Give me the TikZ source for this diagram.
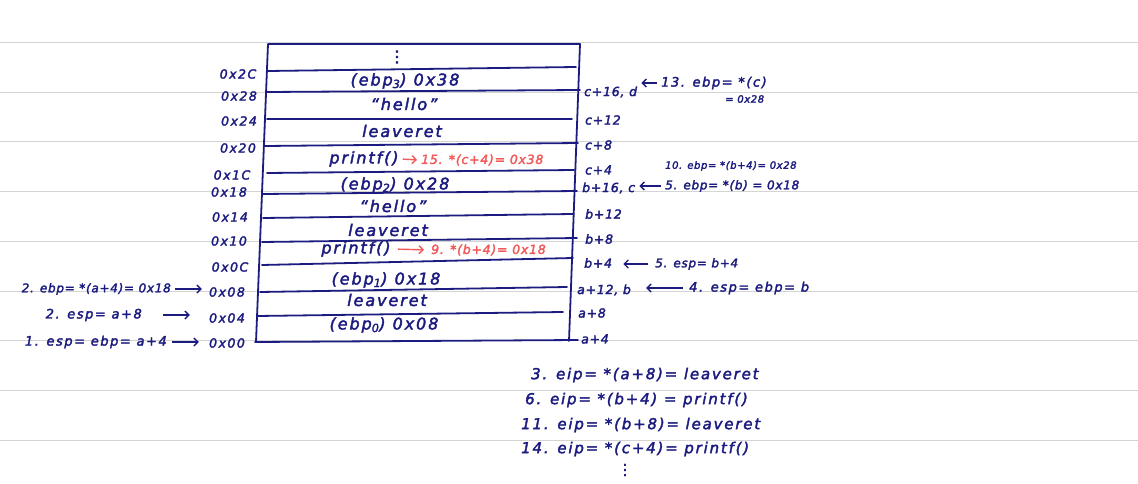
\documentclass[tikz,border=0pt]{standalone}
\usepackage{fontspec}
\setmainfont{DejaVu Sans}
\newfontfamily\hand[LetterSpace=12, FakeBold=2.4]{DejaVu Sans}
\newfontfamily\handtight[LetterSpace=6, FakeBold=2.4]{DejaVu Sans}
\usetikzlibrary{arrows.meta}
\definecolor{ink}{HTML}{1C1C80}
\definecolor{redink}{HTML}{F25A5A}
\definecolor{rule}{HTML}{D4D4D4}
\tikzset{
  rowtxt/.style={font=\hand\itshape\fontsize{16}{16}\selectfont, text=ink, inner sep=1pt},
  addr/.style={font=\hand\itshape\fontsize{12.5}{13}\selectfont, text=ink, inner sep=1pt},
  raddr/.style={font=\handtight\itshape\fontsize{12.5}{13}\selectfont, text=ink, inner sep=1pt},
  note/.style={font=\hand\itshape\fontsize{13}{13}\selectfont, text=ink, inner sep=1pt},
  notesm/.style={font=\handtight\itshape\fontsize{12}{12}\selectfont, text=ink, inner sep=1pt},
  small/.style={font=\handtight\itshape\fontsize{10}{10}\selectfont, text=ink, inner sep=1pt},
  rednote/.style={font=\handtight\itshape\fontsize{12.5}{13}\selectfont, text=redink, inner sep=1pt},
  bottom/.style={font=\hand\itshape\fontsize{15}{15}\selectfont, text=ink, inner sep=1pt},
  pen/.style={draw=ink, line width=1.8pt, line cap=round, line join=round},
  arr/.style={draw=ink, line width=1.4pt, -{Straight Barb[length=4pt,width=8pt]}},
  redarr/.style={draw=redink, line width=1.4pt, -{Straight Barb[length=4pt,width=8pt]}},
  ruled/.style={draw=rule, line width=1pt}
}
\begin{document}
\begin{tikzpicture}[x=1pt,y=-1pt]
\useasboundingbox (0,0) rectangle (1138,484);
\fill[white] (0,0) rectangle (1138,484);
% notebook rules
\foreach \k in {0,...,8} {
  \draw[ruled] (0,{42.5+49.7*\k}) -- (1138,{42.5+49.7*\k});
}
% box outline
\coordinate (tl) at (268,44);
\coordinate (tr) at (580,44);
\coordinate (br) at (569,341);
\coordinate (bl) at (256,342);
\draw[pen] (bl) -- (tl) -- (tr) -- (br);
% row lines
\draw[pen] (268,71) -- (576,67);
\draw[pen] (267,92) -- (580,90);
\draw[pen] (267,119) -- (572,119);
\draw[pen] (265,146) -- (578,143);
\draw[pen] (267,173) -- (574,170);
\draw[pen] (263,194) -- (577,191);
\draw[pen] (263,218) -- (573,214);
\draw[pen] (262,242) -- (577,238);
\draw[pen] (262,265) -- (573,258);
\draw[pen] (260,292) -- (567,287);
\draw[pen] (257,316) -- (563,312);
\draw[pen] (255,342) -- (578,340);

% row contents
\node[rowtxt] (dots) at (397,57) {⋮};
\node[rowtxt] (ebp3) at (405,81) {(ebp\textsubscript{3}) 0x38};
\node[rowtxt] (hello1) at (404,104) {“hello”};
\node[rowtxt] (leave1) at (402,131) {leaveret};
\node[rowtxt] (printf1) at (364,159) {printf()};
\node[rednote, anchor=west] (red1) at (420,160) {15. *(c+4)= 0x38};
\draw[redarr, shorten <=3pt, shorten >=3pt] (printf1.east) -- (red1.west);
\node[rowtxt] (ebp2) at (395,185) {(ebp\textsubscript{2}) 0x28};
\node[rowtxt] (hello2) at (393,206) {“hello”};
\node[rowtxt] (leave2) at (388,230) {leaveret};
\node[rowtxt] (printf2) at (356,249) {printf()};
\node[rednote, anchor=west] (red2) at (430,250) {9. *(b+4)= 0x18};
\draw[redarr, shorten <=6pt, shorten >=6pt] (printf2.east) -- (red2.west);
\node[rowtxt] (ebp1) at (386,280) {(ebp\textsubscript{1}) 0x18};
\node[rowtxt] (leave3) at (387,300) {leaveret};
\node[rowtxt] (ebp0) at (384,325) {(ebp\textsubscript{0}) 0x08};

% left addresses
\node[addr] (a2C) at (238,74) {0x2C};
\node[addr] (a28) at (239,96) {0x28};
\node[addr] (a24) at (239,121) {0x24};
\node[addr] (a20) at (238,148) {0x20};
\node[addr] (a1C) at (232,175) {0x1C};
\node[addr] (a18) at (229,192) {0x18};
\node[addr] (a14) at (230,217) {0x14};
\node[addr] (a10) at (229,241) {0x10};
\node[addr] (a0C) at (230,267) {0x0C};
\node[addr] (a08) at (227,292) {0x08};
\node[addr] (a04) at (227,318) {0x04};
\node[addr] (a00) at (227,343) {0x00};

% right offsets
\node[raddr, anchor=west] (rd) at (583,92) {c+16, d};
\node[raddr, anchor=west] (rc12) at (584,120) {c+12};
\node[raddr, anchor=west] (rc8) at (584,145) {c+8};
\node[raddr, anchor=west] (rc4) at (584,170) {c+4};
\node[raddr, anchor=west] (rc) at (581,188) {b+16, c};
\node[raddr, anchor=west] (rb12) at (584,214) {b+12};
\node[raddr, anchor=west] (rb8) at (584,239) {b+8};
\node[raddr, anchor=west] (rb4) at (583,263) {b+4};
\node[raddr, anchor=west] (rb) at (576,290) {a+12, b};
\node[raddr, anchor=west] (ra8) at (577,313) {a+8};
\node[raddr, anchor=west] (ra4) at (580,339) {a+4};

% right annotations
\node[note, anchor=west] (n13) at (660,83) {13. ebp= *(c)};
\node[small, anchor=west] (n13b) at (724,99) {= 0x28};
\draw[arr, shorten <=3pt, shorten >=3pt] (n13.west) -- (rd.east |- n13.west);
\node[small, anchor=west] (n10) at (664,166) {10. ebp= *(b+4)= 0x28};
\node[notesm, anchor=west] (n5a) at (664,186) {5. ebp= *(b) = 0x18};
\draw[arr, shorten <=3pt, shorten >=3pt] (n5a.west) -- (rc.east |- n5a.west);
\node[notesm, anchor=west] (n5b) at (654,264) {5. esp= b+4};
\draw[arr, shorten <=6pt, shorten >=10pt] (n5b.west) -- (rb4.east |- n5b.west);
\node[note, anchor=west] (n4) at (688,288) {4. esp= ebp= b};
\draw[arr, shorten <=5pt, shorten >=14pt] (n4.west) -- (rb.east |- n4.west);

% left annotations
\node[notesm, anchor=east] (l2a) at (172,289) {2. ebp= *(a+4)= 0x18};
\draw[arr, shorten <=3pt, shorten >=6pt] (l2a.east) -- (a08.west |- l2a.east);
\node[note, anchor=east] (l2b) at (143,315) {2. esp= a+8};
\draw[arr, shorten <=20pt, shorten >=18pt] (l2b.east) -- (a04.west |- l2b.east);
\node[note, anchor=east] (l1) at (168,342) {1. esp= ebp= a+4};
\draw[arr, shorten <=4pt, shorten >=9pt] (l1.east) -- (a00.west |- l1.east);

% bottom notes
\node[bottom, anchor=west] (e3) at (530,375) {3. eip= *(a+8)= leaveret};
\node[bottom, anchor=west] (e6) at (524,400) {6. eip= *(b+4) = printf()};
\node[bottom, anchor=west] (e11) at (520,425) {11. eip= *(b+8)= leaveret};
\node[bottom, anchor=west] (e14) at (520,449) {14. eip= *(c+4)= printf()};
\node[bottom] (edots) at (625,470) {⋮};
\end{tikzpicture}
\end{document}
